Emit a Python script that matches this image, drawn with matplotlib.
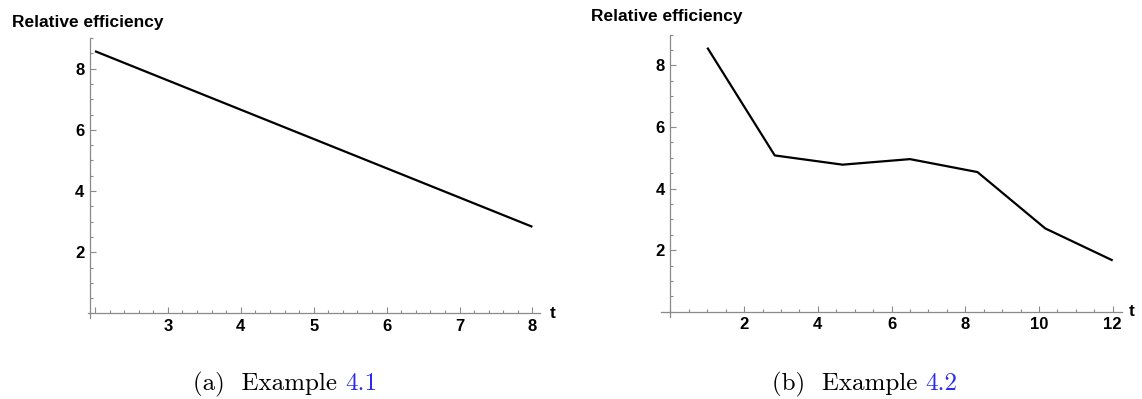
import numpy as np
import matplotlib.pyplot as plt
from matplotlib.ticker import MultipleLocator

# Data
t_a = [2, 8]
eff_a = [8.57, 2.83]

t_b = [1, 2.83, 4.67, 6.5, 8.33, 10.17, 12]
eff_b = [8.58, 5.08, 4.78, 4.96, 4.54, 2.71, 1.67]

xticks_a = [2, 3, 4, 5, 6, 7, 8]
xlabels_a = ['', '3', '4', '5', '6', '7', '8']
xticks_b = [2, 4, 6, 8, 10, 12]
yticks = [2, 4, 6, 8]

W, H = 1142, 399
sans = 'Liberation Sans'
axis_grey = '#8a8a8a'

plt.rcParams['font.family'] = sans
plt.rcParams['font.weight'] = 'bold'

fig = plt.figure(figsize=(W / 100, H / 100), dpi=100)


def px_axes(x0, y0, x1, y1):
    # pixel box (top-left origin) -> figure fraction
    return fig.add_axes([x0 / W, 1 - y1 / H, (x1 - x0) / W, (y1 - y0) / H])


def style(ax, xorig, xminor):
    for s in ['top', 'right']:
        ax.spines[s].set_visible(False)
    ax.spines['left'].set_position(('data', xorig))
    ax.spines['bottom'].set_position(('data', 0))
    for s in ['left', 'bottom']:
        ax.spines[s].set_color(axis_grey)
        ax.spines[s].set_linewidth(0.9)
    ax.xaxis.set_minor_locator(MultipleLocator(xminor))
    ax.yaxis.set_minor_locator(MultipleLocator(0.5))
    ax.tick_params(which='both', direction='in', color=axis_grey, width=0.8,
                   labelsize=12, labelcolor='black')
    ax.tick_params(which='major', length=4)
    ax.tick_params(which='minor', length=2)
    ax.tick_params(axis='x', pad=4)
    ax.tick_params(axis='y', pad=4)
    ax.set_yticks(yticks)
    ax.set_yticklabels([str(v) for v in yticks])


# (a)
ax1 = px_axes(87.7, 38, 539.7, 318)
ax1.plot(t_a, eff_a, color='black', lw=1.6, solid_capstyle='butt')
ax1.set_xlim(1.90, 8.10)
ax1.set_ylim(-0.15, 9.0)
ax1.set_xticks(xticks_a)
ax1.set_xticklabels(xlabels_a)
style(ax1, 1.93, 0.2)

# (b)
ax2 = px_axes(660.5, 34.7, 1121.9, 316.5)
ax2.plot(t_b, eff_b, color='black', lw=1.6, solid_capstyle='butt')
ax2.set_xlim(-0.27, 12.25)
ax2.set_ylim(-0.15, 9.0)
ax2.set_xticks(xticks_b)
ax2.set_xticklabels([str(v) for v in xticks_b])
style(ax2, 0, 0.5)

# axis titles
fig.text(11.5 / W, 1 - 27 / H, 'Relative efficiency', fontsize=12.5,
         va='baseline', ha='left')
fig.text(591 / W, 1 - 21.5 / H, 'Relative efficiency', fontsize=12.5,
         va='baseline', ha='left')
fig.text(550 / W, 1 - 313 / H, 't', fontsize=12.5, va='center', ha='left')
fig.text(1129 / W, 1 - 312 / H, 't', fontsize=12.5, va='center', ha='left')

# captions
cap = dict(family='cmr10', weight='normal', fontsize=18, va='baseline')
link_blue = '#2b2bf0'
fig.text(337 / W, 1 - 390 / H, '(a)  Example', ha='right', color='black', **cap)
fig.text(345.5 / W, 1 - 390 / H, '4.1', ha='left', color=link_blue, **cap)
fig.text(917 / W, 1 - 390 / H, '(b)  Example', ha='right', color='black', **cap)
fig.text(925.5 / W, 1 - 390 / H, '4.2', ha='left', color=link_blue, **cap)

fig.savefig('out.png', dpi=100)
